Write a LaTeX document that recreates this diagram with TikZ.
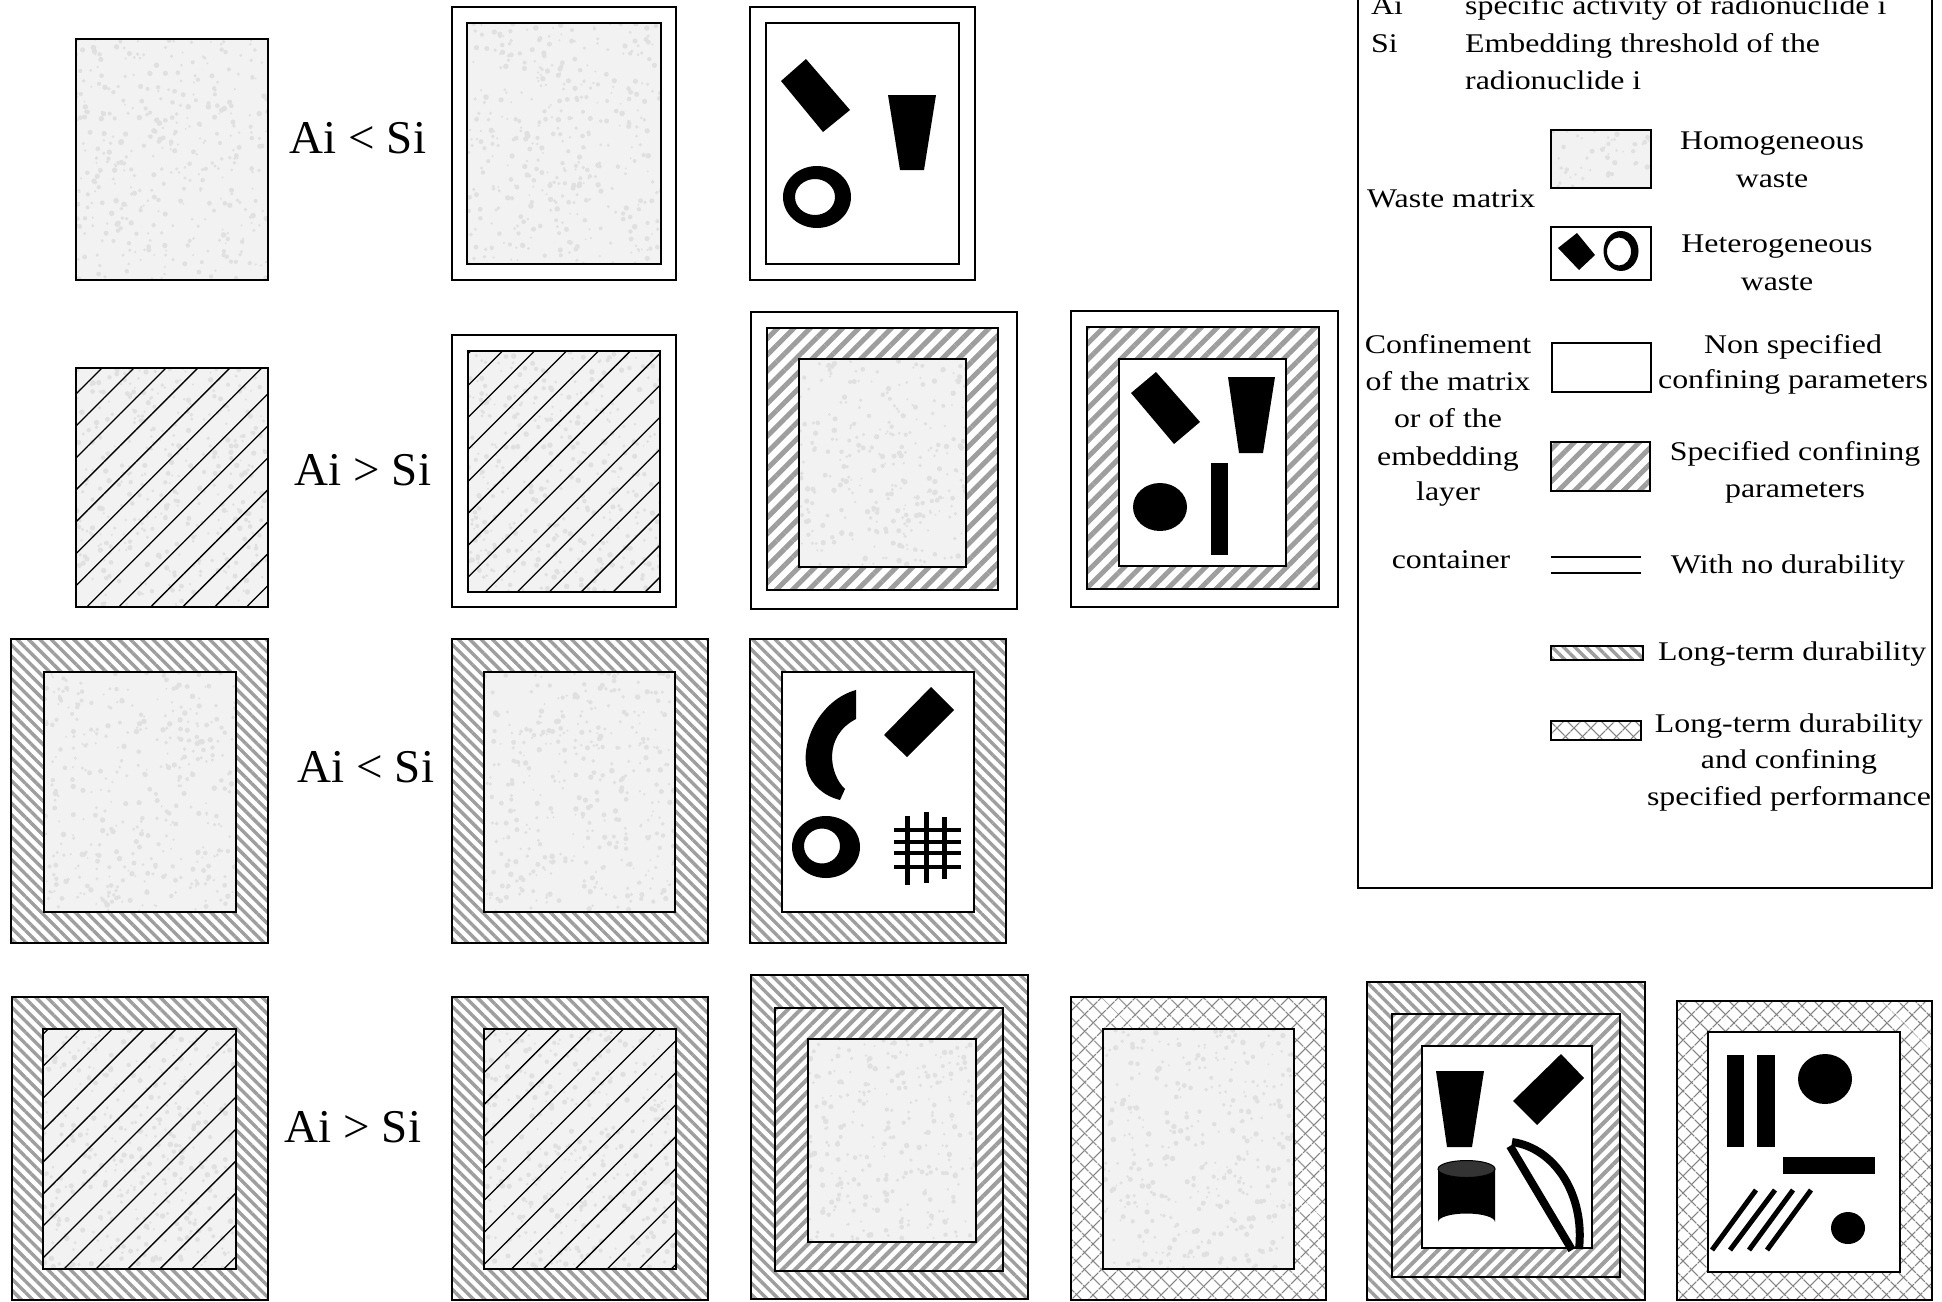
\documentclass[tikz,border=0pt]{standalone}
\usepackage{fontspec}
\setmainfont{Liberation Serif}
\newfontfamily\legfont[FakeStretch=1.18]{Liberation Serif}
\usetikzlibrary{patterns.meta}
\newcommand\speck[4]{%
  \begin{scope}
    \clip (#1,#2) rectangle (#3,#4);
    \pgfmathtruncatemacro\nspk{(#3-#1)/12*(#4-#2)/10}
    \foreach \i in {1,...,\nspk}{%
      \fill[black!12] ({#1+rnd*(#3-#1)},{#2+rnd*(#4-#2)}) circle [radius={1+rnd*1.8}];
    }
  \end{scope}}
\newcommand\homrect[4]{%
  \fill[black!5] (#1,#2) rectangle (#3,#4);
  \speck{#1}{#2}{#3}{#4}
  \draw[bx] (#1,#2) rectangle (#3,#4);}
\newcommand\hatrect[4]{%
  \fill[black!5] (#1,#2) rectangle (#3,#4);
  \speck{#1}{#2}{#3}{#4}
  \fill[blackhatch] (#1,#2) rectangle (#3,#4);
  \draw[bx] (#1,#2) rectangle (#3,#4);}
\begin{document}
\begin{tikzpicture}[x=1pt,y=-1pt,
  bx/.style={draw=black, line width=1.8pt},
  wht/.style={bx, fill=white},
  blackhatch/.style={pattern={Lines[angle=45,distance=22.6pt,line width=1.3pt]}, pattern color=black},
  spc/.style={bx, preaction={fill=white}, pattern={Lines[angle=45,distance=11.5pt,line width=5pt]}, pattern color=black!38},
  spcb/.style={bx, preaction={fill=white}, pattern={Lines[angle=45,distance=9pt,line width=4pt]}, pattern color=black!38},
  ltd/.style={bx, preaction={fill=white}, pattern={Lines[angle=-45,distance=8pt,line width=3.4pt]}, pattern color=black!38},
  crs/.style={bx, preaction={fill=white}, preaction={pattern={Lines[angle=45,distance=13pt,line width=1.4pt]}, pattern color=black!50}, pattern={Lines[angle=-45,distance=13pt,line width=1.4pt]}, pattern color=black!50},
  big/.style={inner sep=0pt, anchor=base, font=\fontsize{47}{56}\selectfont},
  leg/.style={inner sep=0pt, anchor=base, font=\legfont\fontsize{27}{37}\selectfont},
  legw/.style={leg, anchor=base west},
  blk/.style={fill=black}
]
\pgfmathsetseed{11}
\useasboundingbox (0,0) rectangle (1942,1301);
\fill[white] (0,0) rectangle (1942,1301);

% ---------- Row 1 ----------
\homrect{76}{39}{268}{280}
\node[big] (t1) at (358,153) {Ai < Si};
\draw[wht] (452,7) rectangle (676,280);
\homrect{467}{23}{661}{264}
\draw[wht] (750,7) rectangle (975,280);
\draw[wht] (766,23) rectangle (959,264);
\fill[blk] (781,81) -- (806,59) -- (850,110) -- (823,132) -- cycle;
\fill[blk] (888,95) -- (936,95) -- (924,170) -- (900,170) -- cycle;
\fill[blk, even odd rule] (817,197) ellipse [x radius=34, y radius=31] (815,197) ellipse [x radius=20, y radius=18];

% ---------- Row 2 ----------
\hatrect{76}{368}{268}{607}
\node[big] (t2) at (363,485) {Ai > Si};
\draw[wht] (452,335) rectangle (676,607);
\hatrect{468}{351}{660}{592}
\draw[wht] (751,312) rectangle (1017,609);
\draw[spc] (767,328) rectangle (998,590);
\homrect{799}{359}{966}{567}
\draw[wht] (1071,311) rectangle (1338,607);
\draw[spc] (1087,327) rectangle (1319,589);
\draw[wht] (1119,359) rectangle (1286,566);
\fill[blk] (1131,393) -- (1156,372) -- (1200,422) -- (1174,444) -- cycle;
\fill[blk] (1228,377) -- (1275,377) -- (1263,453) -- (1239,453) -- cycle;
\fill[blk] (1160,507) ellipse [x radius=27, y radius=24];
\fill[blk] (1211,463) rectangle (1228,555);

% ---------- Row 3 ----------
\draw[ltd] (11,639) rectangle (268,943);
\homrect{44}{672}{236}{912}
\node[big] (t3) at (366,782) {Ai < Si};
\draw[ltd] (452,639) rectangle (708,943);
\homrect{484}{672}{675}{912}
\draw[ltd] (750,639) rectangle (1006,943);
\draw[wht] (782,672) rectangle (974,912);
\fill[blk] (856,690) .. controls (820,700) and (800,742) .. (807,770) .. controls (811,785) and (824,796) .. (840,800) -- (845,789) .. controls (829,774) and (823,736) .. (856,719) -- cycle;
\fill[blk] (931,687) -- (954,710) -- (907,757) -- (884,735) -- cycle;
\fill[blk, even odd rule] (826,847) ellipse [x radius=34, y radius=31] (822,846) ellipse [x radius=18, y radius=17.5];
\draw[line width=5pt] (907,816) -- (907,885) (926,812) -- (926,883) (944,817) -- (944,879);
\draw[line width=4.5pt] (894,830) -- (961,830) (894,842) -- (961,842) (894,853) -- (961,853) (894,867) -- (961,867);

% ---------- Row 4 ----------
\draw[ltd] (12,997) rectangle (268,1300);
\hatrect{43}{1029}{236}{1269}
\node[big] (t4) at (353,1142) {Ai > Si};
\draw[ltd] (452,997) rectangle (708,1300);
\hatrect{484}{1029}{676}{1269}
\draw[ltd] (751,975) rectangle (1028,1299);
\draw[spcb] (775,1008) rectangle (1003,1271);
\homrect{808}{1039}{976}{1242}
\draw[crs] (1071,997) rectangle (1326,1300);
\homrect{1103}{1029}{1294}{1269}
\draw[ltd] (1367,982) rectangle (1645,1300);
\draw[spcb] (1392,1014) rectangle (1620,1277);
\draw[wht] (1422,1046) rectangle (1592,1248);
\fill[blk] (1436,1071) -- (1484,1071) -- (1472,1147) -- (1447,1147) -- cycle;
\fill[blk] (1513,1101) -- (1561,1054) -- (1584,1078) -- (1537,1125) -- cycle;
\fill[blk] (1438,1169) -- (1438,1222) arc [start angle=180, end angle=360, x radius=28.5, y radius=8.5] -- (1495,1169) -- cycle;
\filldraw[fill=black!80, draw=black, line width=1pt] (1466.5,1169) ellipse [x radius=28.5, y radius=8.5];
\draw[line width=8pt] (1512,1142) .. controls (1555,1148) and (1585,1195) .. (1579,1249);
\draw[line width=8pt] (1510,1146) -- (1572,1250);
\draw[crs] (1677,1001) rectangle (1932,1300);
\draw[wht] (1708,1032) rectangle (1900,1272);
\fill[blk] (1727,1055) rectangle (1744,1147);
\fill[blk] (1757,1055) rectangle (1775,1147);
\fill[blk] (1825,1079) ellipse [x radius=27, y radius=25];
\fill[blk] (1783,1157) rectangle (1875,1174);
\draw[line width=5pt] (1712,1250) -- (1756,1190) (1730,1250) -- (1775,1190) (1749,1250) -- (1793,1190) (1767,1250) -- (1811,1190);
\fill[blk] (1848,1228) ellipse [x radius=17, y radius=16];

% ---------- Legend ----------
\draw[line width=2pt] (1358,-5) rectangle (1932,888);
\node[legw] (lai) at (1371,14) {Ai};
\node[legw] (laid) at (1465,14) {specific activity of radionuclide i};
\node[legw] (lsi) at (1371,52) {Si};
\node[legw] (lsid) at (1465,52) {Embedding threshold of the};
\node[legw] (lsid2) at (1465,89) {radionuclide i};
\node[legw] (lwm) at (1367,207) {Waste matrix};
\homrect{1551}{130}{1651}{188}
\node[leg] (lho1) at (1772,149) {Homogeneous};
\node[leg] (lho2) at (1772,187) {waste};
\draw[wht] (1551,227) rectangle (1651,280);
\fill[blk] (1558,248) -- (1577,233) -- (1595,255) -- (1579,270) -- cycle;
\fill[blk, even odd rule] (1621,251) ellipse [x radius=17.5, y radius=20] (1619,251.5) ellipse [x radius=12, y radius=14];
\node[leg] (lhe1) at (1777,252) {Heterogeneous};
\node[leg] (lhe2) at (1777,290) {waste};
\node[leg] (lc1) at (1448,353) {Confinement};
\node[leg] (lc2) at (1448,390) {of the matrix};
\node[leg] (lc3) at (1448,427) {or of the};
\node[leg] (lc4) at (1448,465) {embedding};
\node[leg] (lc5) at (1448,500) {layer};
\draw[wht] (1552,343) rectangle (1651,392);
\node[leg] (lns1) at (1793,353) {Non specified};
\node[leg] (lns2) at (1793,388) {confining parameters};
\draw[spc] (1551,442) rectangle (1650,491);
\node[leg] (lsp1) at (1795,460) {Specified confining};
\node[leg] (lsp2) at (1795,497) {parameters};
\node[leg] (lco) at (1451,568) {container};
\draw[line width=2pt] (1551,557) -- (1641,557) (1551,573) -- (1641,573);
\node[leg] (lnd) at (1788,573) {With no durability};
\draw[ltd] (1551,646) rectangle (1643,660);
\node[legw] (llt) at (1658,660) {Long-term durability};
\draw[crs] (1551,721) rectangle (1641,740);
\node[leg] (llc1) at (1789,732) {Long-term durability};
\node[leg] (llc2) at (1789,768) {and confining};
\node[leg] (llc3) at (1789,805) {specified performance};
\end{tikzpicture}
\end{document}
